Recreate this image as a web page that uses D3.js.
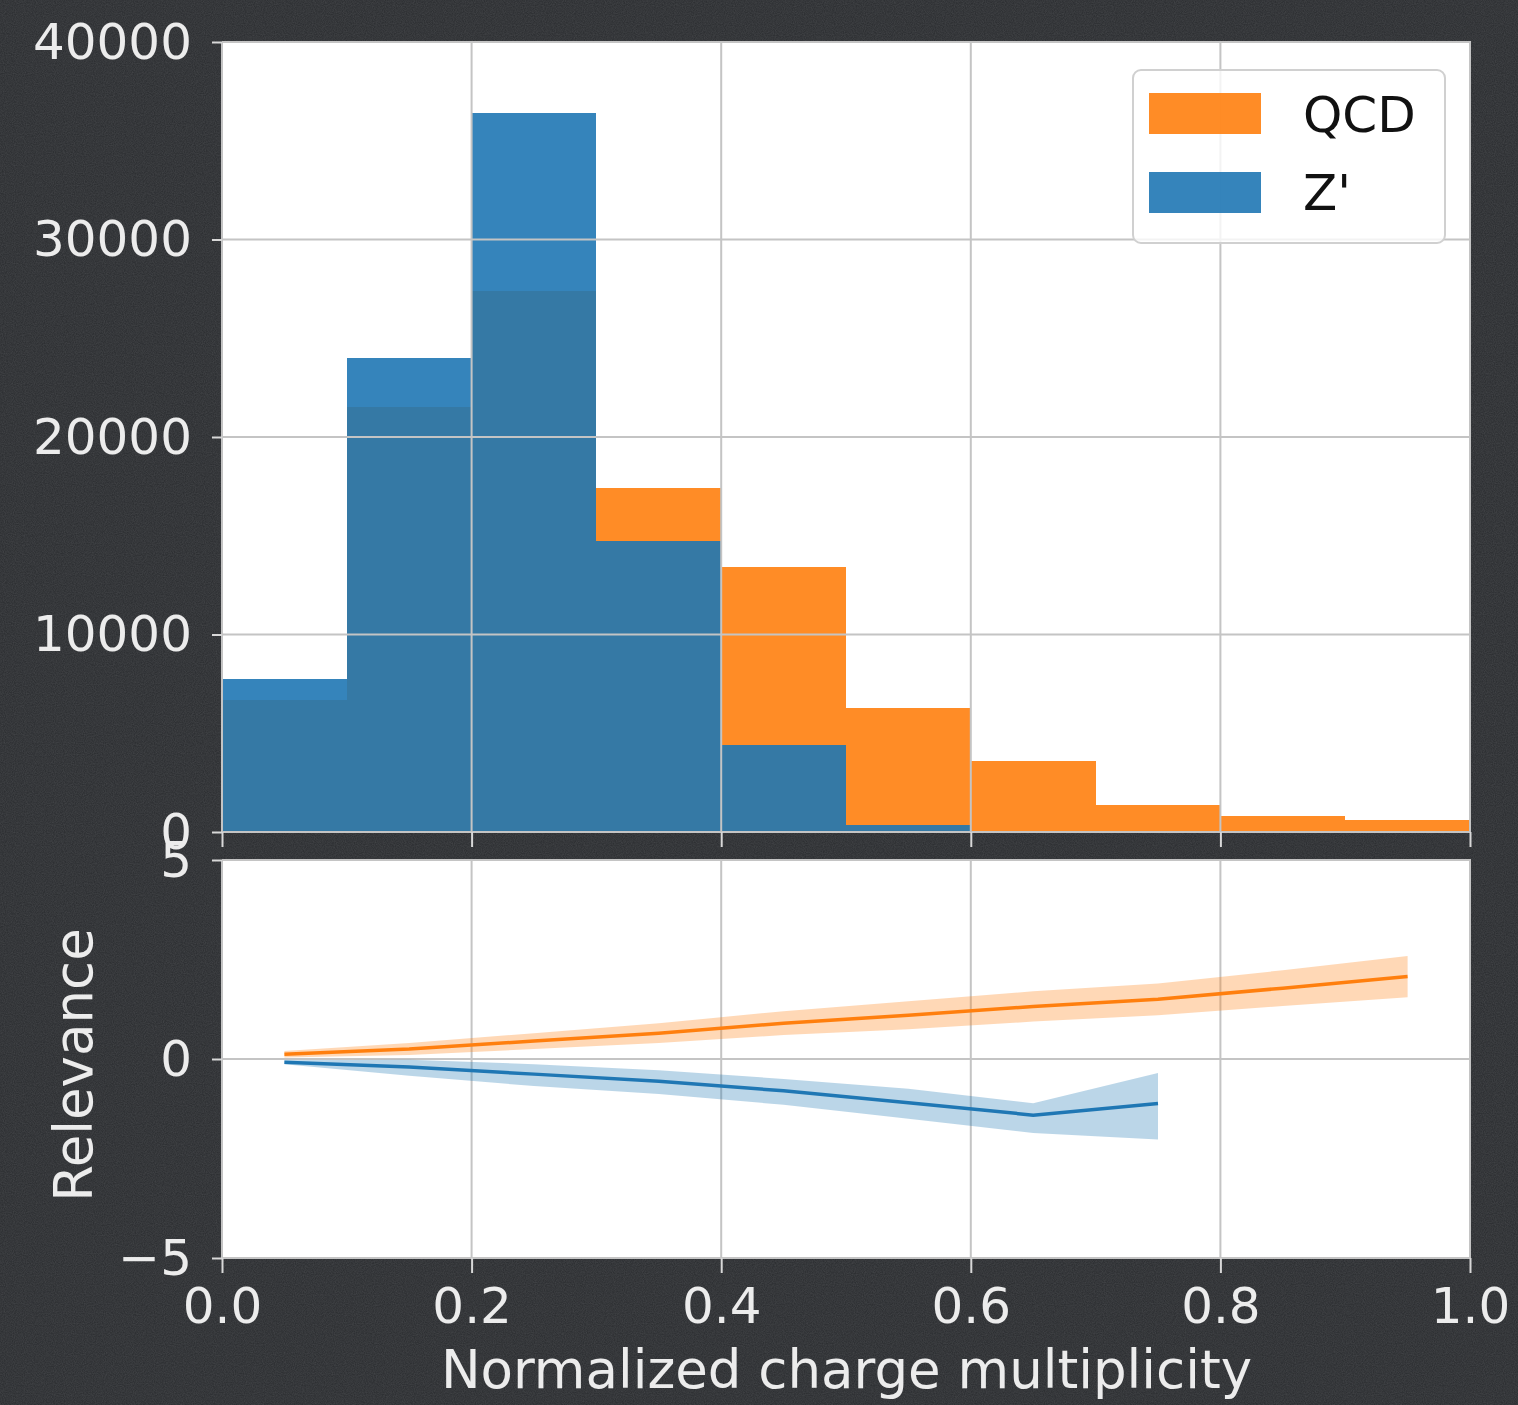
<!DOCTYPE html>
<html>
<head>
<meta charset="utf-8">
<script src="https://cdn.jsdelivr.net/npm/d3@7"></script>
<style>
  html, body { margin: 0; padding: 0; background: #313336; }
  svg { display: block; }
  text { font-family: "DejaVu Sans", sans-serif; }
</style>
</head>
<body>
<svg id="chart" width="1518" height="1405"></svg>
<script>
// Histogram: counts per 0.1-wide bin of normalized charge multiplicity
const binEdges = [0, 0.1, 0.2, 0.3, 0.4, 0.5, 0.6, 0.7, 0.8, 0.9, 1.0];
const qcdCounts = [6700, 21500, 27400, 17400, 13400, 6300, 3600, 1350, 810, 600];
const zprimeCounts = [7750, 24000, 36400, 14750, 4400, 350, 20, 0, 0, 0];

// Mean relevance per bin with uncertainty band
const qcdCenters = [0.05, 0.15, 0.25, 0.35, 0.45, 0.55, 0.65, 0.75, 0.85, 0.95];
const qcdRelevance = [0.12, 0.25, 0.45, 0.65, 0.9, 1.1, 1.32, 1.5, 1.78, 2.07];
const qcdSpread = [0.08, 0.15, 0.2, 0.25, 0.3, 0.35, 0.38, 0.4, 0.45, 0.52];

const zpCenters = [0.05, 0.15, 0.25, 0.35, 0.45, 0.55, 0.65, 0.75];
const zpRelevance = [-0.08, -0.2, -0.38, -0.56, -0.8, -1.1, -1.41, -1.12];
const zpSpreadUp = [0.05, 0.18, 0.25, 0.28, 0.3, 0.35, 0.3, 0.77];
const zpSpreadDown = [0.05, 0.22, 0.3, 0.32, 0.35, 0.4, 0.45, 0.9];

const countTicks = [0, 10000, 20000, 30000, 40000];
const relTicks = [-5, 0, 5];
const xTicks = [0, 0.2, 0.4, 0.6, 0.8, 1.0];

const ORANGE = "#ff7f0e", BLUE = "#1f77b4";
const TEXT = "#ececec", GRID = "#c4c4c4", TICK = "#d8d8d8";
const FS = 50, TITLE_FS = 53;

const svg = d3.select("#chart");

// chalkboard-style background
const defs = svg.append("defs");
const f = defs.append("filter").attr("id", "grain").attr("x", 0).attr("y", 0).attr("width", "100%").attr("height", "100%");
f.append("feTurbulence").attr("type", "fractalNoise").attr("baseFrequency", 0.9).attr("numOctaves", 2).attr("seed", 3);
f.append("feColorMatrix").attr("type", "matrix")
  .attr("values", "0 0 0 0 0.75  0 0 0 0 0.76  0 0 0 0 0.78  0 0 0 0.5 -0.1");
svg.append("rect").attr("width", 1518).attr("height", 1405).attr("fill", "#2e3033");
svg.append("rect").attr("width", 1518).attr("height", 1405).attr("filter", "url(#grain)").attr("opacity", 0.3);

const left = 222, right = 1471;
const x = d3.scaleLinear().domain([0, 1]).range([left, right - 1]);
const yTop = d3.scaleLinear().domain([0, 40000]).range([832, 42]);
const yBot = d3.scaleLinear().domain([-5, 5]).range([1258, 860]);

function panel(y) {
  const [y0, y1] = y.range();
  svg.append("rect").attr("x", left).attr("y", y1).attr("width", right - left).attr("height", y0 - y1).attr("fill", "#ffffff");
}

function gridAndAxes(y, yTickVals, fmt, showXLabels) {
  const [y0, y1] = y.range();
  const g = svg.append("g");
  g.selectAll(".gx").data(xTicks).join("line")
    .attr("x1", d => x(d)).attr("x2", d => x(d)).attr("y1", y1).attr("y2", y0)
    .attr("stroke", GRID).attr("stroke-width", 2);
  g.selectAll(".gy").data(yTickVals).join("line")
    .attr("x1", left).attr("x2", right).attr("y1", d => y(d)).attr("y2", d => y(d))
    .attr("stroke", GRID).attr("stroke-width", 2);

  const ya = d3.axisLeft(y).tickValues(yTickVals).tickSize(10).tickPadding(20).tickFormat(fmt);
  const yg = g.append("g").attr("transform", `translate(${left},0)`).call(ya);
  const xa = d3.axisBottom(x).tickValues(xTicks).tickSize(15).tickPadding(14)
    .tickFormat(showXLabels ? d3.format(".1f") : () => "");
  const xg = g.append("g").attr("transform", `translate(0,${y0})`).call(xa);
  [yg, xg].forEach(a => {
    a.select(".domain").remove();
    a.selectAll("line").attr("stroke", TICK).attr("stroke-width", 2);
    a.selectAll("text").attr("fill", TEXT).attr("font-size", FS).attr("font-family", "DejaVu Sans");
  });
  return g;
}

// ---- top: histograms ----
panel(yTop);
const bins = binEdges.slice(0, -1).map((b, i) => ({ x0: b, x1: binEdges[i + 1], qcd: qcdCounts[i], zp: zprimeCounts[i] }));
const hist = svg.append("g").attr("shape-rendering", "crispEdges");
hist.selectAll(".q").data(bins).join("rect")
  .attr("x", d => x(d.x0)).attr("width", d => x(d.x1) - x(d.x0))
  .attr("y", d => yTop(d.qcd)).attr("height", d => yTop(0) - yTop(d.qcd))
  .attr("fill", ORANGE).attr("fill-opacity", 0.9);
hist.selectAll(".z").data(bins.filter(d => d.zp > 0)).join("rect")
  .attr("x", d => x(d.x0)).attr("width", d => x(d.x1) - x(d.x0))
  .attr("y", d => yTop(d.zp)).attr("height", d => yTop(0) - yTop(d.zp))
  .attr("fill", BLUE).attr("fill-opacity", 0.9);
gridAndAxes(yTop, countTicks, d3.format("d"), false);

// legend
const lg = svg.append("g");
lg.append("rect").attr("x", 1133).attr("y", 70).attr("width", 312).attr("height", 173).attr("rx", 8)
  .attr("fill", "#ffffff").attr("fill-opacity", 0.8).attr("stroke", "#d0d0d0").attr("stroke-width", 2);
const legendItems = [{ label: "QCD", color: ORANGE }, { label: "Z'", color: BLUE }];
legendItems.forEach((it, i) => {
  lg.append("rect").attr("x", 1149).attr("y", 93 + i * 79).attr("width", 112).attr("height", 41)
    .attr("fill", it.color).attr("fill-opacity", 0.9);
  lg.append("text").attr("x", 1303).attr("y", 132 + i * 78).attr("font-size", FS).attr("fill", "#111")
    .text(it.label);
});

// ---- bottom: relevance ----
panel(yBot);
gridAndAxes(yBot, relTicks, d => (d < 0 ? "\u2212" + Math.abs(d) : String(d)), true);

const rel = svg.append("g");
const qcdPts = qcdCenters.map((c, i) => ({ c, m: qcdRelevance[i], lo: qcdRelevance[i] - qcdSpread[i], hi: qcdRelevance[i] + qcdSpread[i] }));
const zpPts = zpCenters.map((c, i) => ({ c, m: zpRelevance[i], lo: zpRelevance[i] - zpSpreadDown[i], hi: zpRelevance[i] + zpSpreadUp[i] }));
const band = d3.area().x(d => x(d.c)).y0(d => yBot(d.lo)).y1(d => yBot(d.hi));
const line = d3.line().x(d => x(d.c)).y(d => yBot(d.m));
[[qcdPts, ORANGE], [zpPts, BLUE]].forEach(([pts, col]) => {
  rel.append("path").attr("d", band(pts)).attr("fill", col).attr("fill-opacity", 0.3);
  rel.append("path").attr("d", line(pts)).attr("fill", "none").attr("stroke", col).attr("stroke-width", 3.5);
});

// axis titles
svg.append("text").attr("x", (left + right) / 2).attr("y", 1388).attr("text-anchor", "middle")
  .attr("font-size", TITLE_FS).attr("fill", TEXT).text("Normalized charge multiplicity");
svg.append("text").attr("transform", `translate(92,${(860 + 1258) / 2 + 6}) rotate(-90)`).attr("text-anchor", "middle")
  .attr("font-size", TITLE_FS).attr("fill", TEXT).text("Relevance");
</script>
</body>
</html>
